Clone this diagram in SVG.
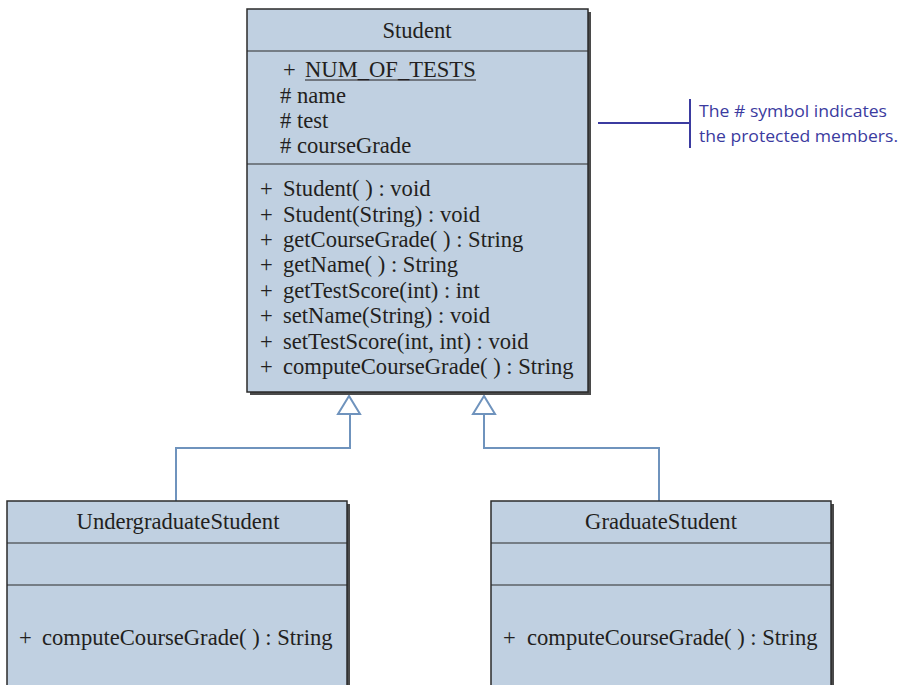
<svg xmlns="http://www.w3.org/2000/svg" width="902" height="685" viewBox="0 0 902 685">
<defs>
<style>
.box{fill:#c0d0e1;stroke:#2b2b2b;stroke-width:1.5}
.shadow{fill:#4a4a4a}
.div{stroke:#2b2b2b;stroke-width:1.2}
.t{font-family:"Liberation Serif","Times New Roman",serif;font-size:22.6px;fill:#231f20}
.c{text-anchor:middle}
.conn{fill:none;stroke:#6f93bd;stroke-width:2}
.tri{fill:#ffffff;stroke:#6f93bd;stroke-width:2}
.note{font-family:"Open Sans","Liberation Sans",sans-serif;font-size:17px;fill:#3b3ba0}
.nl{stroke:#3b3ba0;stroke-width:2;fill:none}
</style>
</defs>
<rect width="902" height="685" fill="#ffffff"/>
<g id="connectors">
<polyline class="conn" points="350,414 350,448 176,448 176,501"/>
<polyline class="conn" points="484,414 484,448 659,448 659,501"/>
<polygon class="tri" points="349,396 338,414 360,414"/>
<polygon class="tri" points="484,396 473,414 495,414"/>
</g>
<g id="Student">
<rect class="shadow" x="250" y="12" width="341" height="383"/>
<rect class="box" x="247" y="9" width="341" height="383"/>
<line class="div" x1="247" y1="51" x2="588" y2="51"/>
<line class="div" x1="247" y1="164" x2="588" y2="164"/>
<text class="t c" x="417" y="38">Student</text>
<text class="t" x="283" y="77">+<tspan x="305">NUM_OF_TESTS</tspan></text>
<line x1="305" y1="80" x2="476" y2="80" stroke="#231f20" stroke-width="1.2"/>
<text class="t" x="280" y="103">#<tspan x="297">name</tspan></text>
<text class="t" x="280" y="128">#<tspan x="297">test</tspan></text>
<text class="t" x="280" y="153">#<tspan x="297">courseGrade</tspan></text>
<text class="t" x="260" y="196">+<tspan x="283">Student( ) : void</tspan></text>
<text class="t" x="260" y="222">+<tspan x="283">Student(String) : void</tspan></text>
<text class="t" x="260" y="247">+<tspan x="283">getCourseGrade( ) : String</tspan></text>
<text class="t" x="260" y="272">+<tspan x="283">getName( ) : String</tspan></text>
<text class="t" x="260" y="298">+<tspan x="283">getTestScore(int) : int</tspan></text>
<text class="t" x="260" y="323">+<tspan x="283">setName(String) : void</tspan></text>
<text class="t" x="260" y="349">+<tspan x="283">setTestScore(int, int) : void</tspan></text>
<text class="t" x="260" y="374">+<tspan x="283">computeCourseGrade( ) : String</tspan></text>
</g>
<g id="UndergraduateStudent">
<rect class="shadow" x="10" y="504" width="340" height="190"/>
<rect class="box" x="7" y="501" width="340" height="190"/>
<line class="div" x1="7" y1="543" x2="347" y2="543"/>
<line class="div" x1="7" y1="585" x2="347" y2="585"/>
<text class="t c" x="178" y="529">UndergraduateStudent</text>
<text class="t" x="19" y="645">+<tspan x="42">computeCourseGrade( ) : String</tspan></text>
</g>
<g id="GraduateStudent">
<rect class="shadow" x="494" y="504" width="340" height="190"/>
<rect class="box" x="491" y="501" width="340" height="190"/>
<line class="div" x1="491" y1="543" x2="831" y2="543"/>
<line class="div" x1="491" y1="585" x2="831" y2="585"/>
<text class="t c" x="661" y="529">GraduateStudent</text>
<text class="t" x="503" y="645">+<tspan x="527">computeCourseGrade( ) : String</tspan></text>
</g>
<g id="note">
<line class="nl" x1="598" y1="123" x2="690" y2="123"/>
<line class="nl" x1="690" y1="99" x2="690" y2="148"/>
<text class="note" x="699" y="117" textLength="188" lengthAdjust="spacingAndGlyphs">The # symbol indicates</text>
<text class="note" x="699" y="142" textLength="199" lengthAdjust="spacingAndGlyphs">the protected members.</text>
</g>
</svg>
